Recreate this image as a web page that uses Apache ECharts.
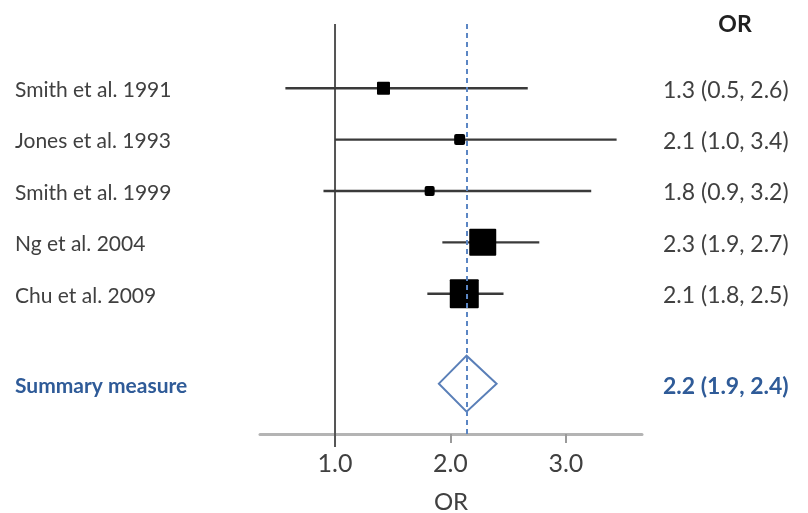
<!DOCTYPE html>
<html>
<head>
<meta charset="utf-8">
<script src="https://cdn.jsdelivr.net/npm/echarts@6/dist/echarts.min.js"></script>
<style>
  html, body { margin: 0; padding: 0; background: #fff; }
  #chart { width: 808px; height: 513px; }
</style>
</head>
<body>
<div id="chart"></div>
<script>
// ---- data ----
const studies = ['Smith et al. 1991', 'Jones et al. 1993', 'Smith et al. 1999', 'Ng et al. 2004', 'Chu et al. 2009'];
const orText = ['1.3 (0.5, 2.6)', '2.1 (1.0, 3.4)', '1.8 (0.9, 3.2)', '2.3 (1.9, 2.7)', '2.1 (1.8, 2.5)'];
const estimates = [1.42, 2.08, 1.82, 2.28, 2.12];
const lower = [0.57, 1.0, 0.9, 1.93, 1.8];
const upper = [2.67, 3.44, 3.22, 2.77, 2.46];
const weights = [13, 11, 10, 27, 29];
const summaryName = 'Summary measure';
const summaryText = '2.2 (1.9, 2.4)';
const summaryEst = 2.14;
const summaryLower = 1.9;
const summaryUpper = 2.4;
const xTicks = [1, 2, 3];
const nullValue = 1;

const summaryRow = 6.75;
const rowValues = studies.map((s, i) => i + 1).concat([summaryRow]);
const leftLabels = studies.concat([summaryName]);
const rightLabels = orText.concat([summaryText]);

const FONT = 'Lato';
const TXT = '#404040';
const BLUE = '#2f5b98';

const chart = echarts.init(document.getElementById('chart'), null, { renderer: 'canvas' });

function labelFor(arr, v) {
  const i = rowValues.findIndex(r => Math.abs(r - v) < 1e-6);
  if (i < 0) return '';
  return i === rowValues.length - 1 ? '{s|' + arr[i] + '}' : '{n|' + arr[i] + '}';
}

const option = {
  animation: false,
  backgroundColor: '#fff',
  title: {
    text: 'OR',
    left: 730,
    top: 8,
    textAlign: 'center',
    textStyle: { fontFamily: FONT, fontWeight: 'bold', fontSize: 23, color: '#202020' }
  },
  grid: { left: 260, right: 166, top: 24, bottom: 79, containLabel: false, outerBoundsMode: 'none' },
  xAxis: {
    type: 'value',
    position: 'bottom',
    min: 0.35,
    max: 3.66,
    name: 'OR',
    nameLocation: 'middle',
    nameGap: 56,
    nameTextStyle: { fontFamily: FONT, fontSize: 24, color: TXT },
    axisLine: { show: true, onZero: false, lineStyle: { color: '#b4b4b4', width: 3 } },
    axisTick: { show: true, customValues: xTicks, length: 9, lineStyle: { color: '#9a9a9a', width: 2 } },
    axisLabel: {
      customValues: xTicks,
      margin: 17,
      fontFamily: FONT, fontSize: 25, color: TXT,
      formatter: v => v.toFixed(1)
    },
    splitLine: { show: false }
  },
  yAxis: [
    {
      type: 'value',
      inverse: true,
      min: -0.25,
      max: 7.73,
      position: 'left',
      axisLine: { show: false },
      axisTick: { show: false },
      splitLine: { show: false },
      axisLabel: {
        customValues: rowValues,
        align: 'left',
        margin: 245,
        formatter: v => labelFor(leftLabels, v),
        rich: {
          n: { fontFamily: FONT, fontSize: 21, color: TXT, padding: [4, 0, 0, 0] },
          s: { fontFamily: FONT, fontSize: 21, color: BLUE, fontWeight: 'bold', padding: [6, 0, 0, 0] }
        }
      }
    },
    {
      type: 'value',
      inverse: true,
      min: -0.25,
      max: 7.73,
      position: 'right',
      axisLine: { show: false },
      axisTick: { show: false },
      splitLine: { show: false },
      axisLabel: {
        customValues: rowValues,
        align: 'left',
        margin: 21,
        formatter: v => labelFor(rightLabels, v),
        rich: {
          n: { fontFamily: FONT, fontSize: 23, color: TXT, padding: [4, 0, 0, 0] },
          s: { fontFamily: FONT, fontSize: 23, color: BLUE, fontWeight: 'bold', padding: [6, 0, 0, 0] }
        }
      }
    }
  ],
  series: [
    {
      // null-effect reference line
      type: 'custom',
      clip: false,
      z: 1,
      data: [[nullValue]],
      renderItem: (params, api) => {
        const top = api.coord([api.value(0), -0.25]);
        const bot = api.coord([api.value(0), 7.73]);
        return {
          type: 'line',
          shape: { x1: top[0], y1: top[1], x2: bot[0], y2: bot[1] + 13 },
          style: { stroke: '#555', lineWidth: 2 }
        };
      }
    },
    {
      // CI lines
      type: 'custom',
      z: 2,
      data: studies.map((s, i) => [estimates[i], lower[i], upper[i], i + 1]),
      renderItem: (params, api) => {
        const a = api.coord([api.value(1), api.value(3)]);
        const b = api.coord([api.value(2), api.value(3)]);
        return {
          type: 'line',
          shape: { x1: a[0], y1: a[1], x2: b[0], y2: b[1] },
          style: { stroke: '#3a3a3a', lineWidth: 2.4 }
        };
      }
    },
    {
      // summary dashed line + diamond
      type: 'custom',
      z: 3,
      data: [[summaryEst, summaryLower, summaryUpper, summaryRow]],
      renderItem: (params, api) => {
        const c = api.coord([api.value(0), api.value(3)]);
        const l = api.coord([api.value(1), api.value(3)]);
        const r = api.coord([api.value(2), api.value(3)]);
        const h = 28;
        return {
          type: 'polygon',
          shape: { points: [[l[0], l[1]], [c[0], c[1] - h], [r[0], r[1]], [c[0], c[1] + h]] },
          style: { fill: '#fff', stroke: '#5a7fb8', lineWidth: 2 }
        };
      },
      markLine: {
        silent: true,
        symbol: 'none',
        label: { show: false },
        lineStyle: { color: '#5b86c4', width: 2, type: [5, 4] },
        data: [{ xAxis: summaryEst }]
      }
    },
    {
      // study squares
      type: 'custom',
      z: 4,
      data: studies.map((s, i) => [estimates[i], i + 1, weights[i]]),
      renderItem: (params, api) => {
        const c = api.coord([api.value(0), api.value(1)]);
        const s = api.value(2);
        return {
          type: 'rect',
          shape: { x: c[0] - s / 2, y: c[1] - s / 2, width: s, height: s, r: s < 12 ? 2 : 1 },
          style: { fill: '#000' }
        };
      }
    }
  ]
};

chart.setOption(option);
</script>
</body>
</html>
